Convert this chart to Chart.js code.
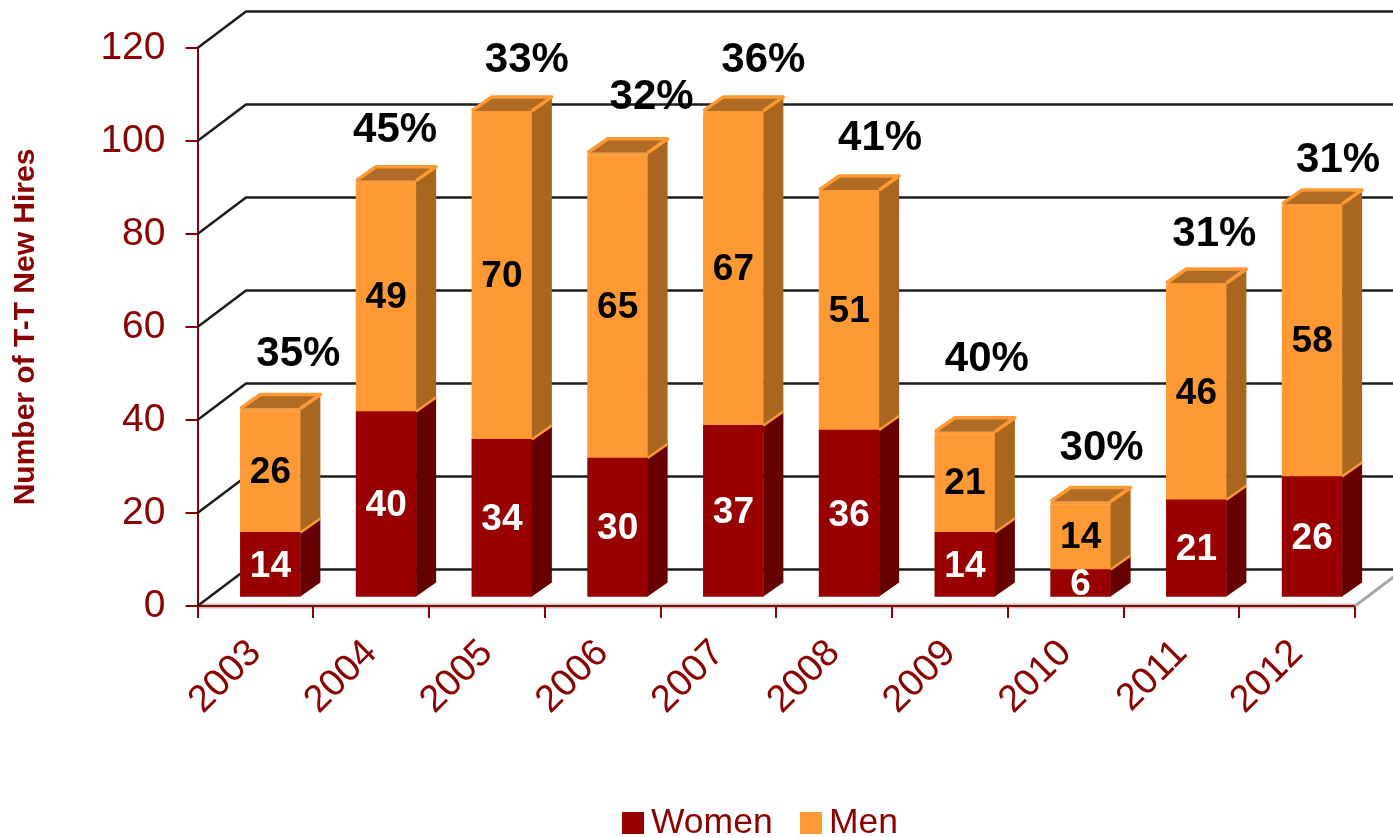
<!DOCTYPE html>
<html>
<head>
<meta charset="utf-8">
<title>T-T New Hires</title>
<script src="https://cdn.jsdelivr.net/npm/chart.js@4"></script>
<style>
  html, body { margin: 0; padding: 0; background: #fff; }
  canvas { display: block; }
</style>
</head>
<body>
<canvas id="hiresChart" width="1393" height="837"></canvas>
<script>
const years = ['2003', '2004', '2005', '2006', '2007', '2008', '2009', '2010', '2011', '2012'];
const women = [14, 40, 34, 30, 37, 36, 14, 6, 21, 26];
const men = [26, 49, 70, 65, 67, 51, 21, 14, 46, 58];
const womenShare = ['35%', '45%', '33%', '32%', '36%', '41%', '40%', '30%', '31%', '31%'];
const yTicks = [0, 20, 40, 60, 80, 100, 120];

const RED = '#990000';
const RED_SIDE = '#660000';
const ORANGE = '#FF9933';
const ORANGE_SIDE = '#A9661F';
const TEXT_RED = '#8B0000';
const FONT = '"Liberation Sans", Arial, sans-serif';

// how far the bars stand in front of the axis plane, and how deep they are
const SHIFT_X = 15, SHIFT_Y = -8.5;
const DEPTH_X = 20, DEPTH_Y = -14;
const WALL_X = 48.5, WALL_Y = -36.5;

// hand placement of the percent labels relative to the top of each bar
const shareDx = [28, 9, 25, 34, 30, 31, 22, 21, 18, 26];
const shareDy = [-54, -50, -50, -55, -50, -52, -72, -53, -49, -43];

function poly(ctx, pts, fill) {
    ctx.beginPath();
    pts.forEach((p, i) => i ? ctx.lineTo(p[0], p[1]) : ctx.moveTo(p[0], p[1]));
    ctx.closePath();
    ctx.fillStyle = fill;
    ctx.fill();
}

const bars3d = {
    id: 'bars3d',
    beforeDraw(chart) {
        const { ctx, scales: { x, y } } = chart;
        // soft grey edge of the floor under the red axis line
        ctx.save();
        ctx.strokeStyle = '#C4C4C4';
        ctx.lineWidth = 5;
        ctx.beginPath();
        ctx.moveTo(x.left, y.bottom);
        ctx.lineTo(x.right, y.bottom);
        ctx.stroke();
        ctx.restore();
    },
    beforeDatasetsDraw(chart) {
        const { ctx, scales: { x, y } } = chart;
        ctx.save();
        ctx.strokeStyle = '#1c1c1c';
        ctx.lineWidth = 2.5;
        yTicks.forEach(v => {
            const py = y.getPixelForValue(v);
            ctx.beginPath();
            ctx.moveTo(x.left, py);
            ctx.lineTo(x.left + WALL_X, py + WALL_Y);
            ctx.lineTo(chart.width, py + WALL_Y);
            ctx.stroke();
        });
        ctx.strokeStyle = '#A6A6A6';
        ctx.lineWidth = 3;
        ctx.beginPath();
        ctx.moveTo(x.right, y.bottom);
        ctx.lineTo(x.right + WALL_X, y.bottom + WALL_Y);
        ctx.stroke();
        ctx.restore();

        ctx.save();
        ctx.translate(SHIFT_X, SHIFT_Y);
    },
    afterDatasetsDraw(chart) {
        const ctx = chart.ctx;
        const lower = chart.getDatasetMeta(0).data;
        const upper = chart.getDatasetMeta(1).data;

        lower.forEach(bar => {
            const right = bar.x + bar.width / 2;
            poly(ctx, [[right, bar.base], [right + DEPTH_X, bar.base + DEPTH_Y],
                [right + DEPTH_X, bar.y + DEPTH_Y], [right, bar.y]], RED_SIDE);
        });
        upper.forEach(bar => {
            const left = bar.x - bar.width / 2, right = bar.x + bar.width / 2;
            const top = bar.y - 3;
            // rim that lifts the orange block slightly above its value
            ctx.fillStyle = ORANGE;
            ctx.fillRect(left, top, bar.width, 3);
            poly(ctx, [[right, bar.base], [right + DEPTH_X, bar.base + DEPTH_Y],
                [right + DEPTH_X, top + DEPTH_Y], [right, top]], ORANGE_SIDE);
            poly(ctx, [[left, top], [left + DEPTH_X, top + DEPTH_Y],
                [right + DEPTH_X, top + DEPTH_Y], [right, top]], '#B06C24');
            ctx.strokeStyle = ORANGE;
            ctx.lineWidth = 3.5;
            ctx.lineJoin = 'round';
            ctx.beginPath();
            ctx.moveTo(left, top);
            ctx.lineTo(left + DEPTH_X, top + DEPTH_Y);
            ctx.lineTo(right + DEPTH_X, top + DEPTH_Y);
            ctx.lineTo(right, top);
            ctx.stroke();
            ctx.lineWidth = 2.5;
            ctx.beginPath();
            ctx.moveTo(right, bar.base);
            ctx.lineTo(right + DEPTH_X, bar.base + DEPTH_Y);
            ctx.stroke();
        });

        ctx.textAlign = 'center';
        ctx.textBaseline = 'middle';
        ctx.font = 'bold 37px ' + FONT;
        lower.forEach((bar, i) => {
            ctx.fillStyle = '#FFFFFF';
            ctx.fillText(women[i], bar.x, (bar.y + bar.base) / 2 + 2);
        });
        upper.forEach((bar, i) => {
            ctx.fillStyle = '#000000';
            ctx.fillText(men[i], bar.x, (bar.y - 3 + bar.base) / 2 + 2);
        });
        ctx.font = 'bold 42px ' + FONT;
        ctx.fillStyle = '#000000';
        upper.forEach((bar, i) => {
            ctx.fillText(womenShare[i], bar.x + shareDx[i], bar.y - 3 + shareDy[i]);
        });
        ctx.restore();

        // legend
        ctx.save();
        ctx.font = '35.5px ' + FONT;
        ctx.textAlign = 'left';
        ctx.textBaseline = 'middle';
        [[622, 651], [800, 829]].forEach((pos, i) => {
            const ds = chart.data.datasets[i];
            ctx.fillStyle = ds.backgroundColor;
            ctx.fillRect(pos[0], 812, 22, 22);
            ctx.fillStyle = TEXT_RED;
            ctx.fillText(ds.label, pos[1], 823);
        });
        ctx.restore();
    }
};

new Chart(document.getElementById('hiresChart'), {
    type: 'bar',
    data: {
        labels: years,
        datasets: [
            { label: 'Women', data: women, backgroundColor: RED, barThickness: 60, clip: false },
            { label: 'Men', data: men, backgroundColor: ORANGE, barThickness: 60, clip: false }
        ]
    },
    options: {
        responsive: false,
        animation: false,
        layout: { padding: { top: 48, right: 38, left: 0, bottom: 0 } },
        plugins: { legend: { display: false }, tooltip: { enabled: false } },
        scales: {
            x: {
                stacked: true,
                afterFit(scale) { scale.height = 231; },
                border: { color: TEXT_RED, width: 2 },
                grid: { drawOnChartArea: false, drawTicks: true, tickLength: 12, color: TEXT_RED, lineWidth: 2 },
                ticks: {
                    color: TEXT_RED,
                    font: { family: FONT, size: 38 },
                    minRotation: 45,
                    maxRotation: 45,
                    autoSkip: false,
                    padding: 13
                }
            },
            y: {
                stacked: true,
                min: 0,
                max: 120,
                afterFit(scale) { scale.width = 197.5; },
                border: { color: TEXT_RED, width: 2 },
                grid: { drawOnChartArea: false, drawTicks: true, tickLength: 12, color: TEXT_RED, lineWidth: 2 },
                ticks: {
                    stepSize: 20,
                    color: TEXT_RED,
                    font: { family: FONT, size: 39 },
                    padding: 20,
                    z: 1
                },
                title: {
                    display: true,
                    text: 'Number of T-T New Hires',
                    color: TEXT_RED,
                    font: { family: FONT, size: 30, weight: 'bold' },
                    padding: { top: 8, bottom: 0 }
                }
            }
        }
    },
    plugins: [bars3d]
});
</script>
</body>
</html>
